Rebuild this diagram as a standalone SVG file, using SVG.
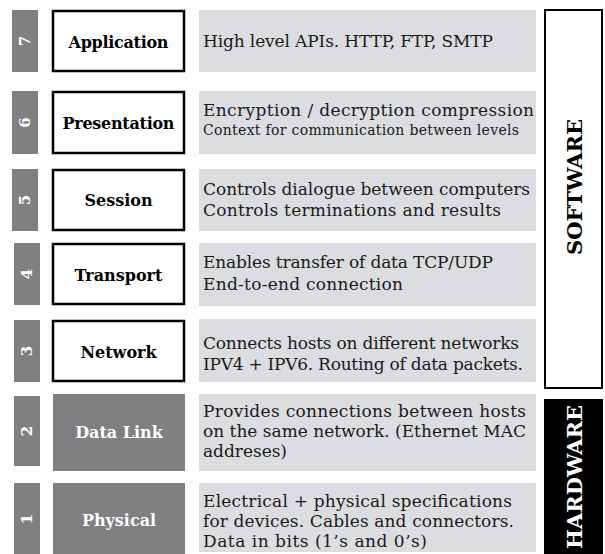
<svg xmlns="http://www.w3.org/2000/svg" width="605" height="554" viewBox="0 0 605 554">
<style>
.num{fill:#808083}
.numt{fill:#fff;font-family:"DejaVu Serif",serif;font-weight:bold;font-size:15px;text-anchor:middle;dominant-baseline:central}
.name{fill:#fff;stroke:#000;stroke-width:2.5}
.nameg{fill:#808083}
.namet{font-family:"DejaVu Serif",serif;font-weight:bold;font-size:16px;text-anchor:middle;dominant-baseline:central;fill:#000}
.namegt{fill:#fff}
.desc{fill:#dcdde0}
.dt{font-family:"DejaVu Serif",serif;font-size:17px;fill:#1a1a1a}
.ds{font-size:14px}
.side{font-family:"DejaVu Serif",serif;font-weight:bold;font-size:21px;text-anchor:middle;dominant-baseline:central}
</style>
<rect width="605" height="554" fill="#fff"/>
<g id="layer7">
<rect class="num" x="12" y="10" width="26" height="62"/>
<text class="numt" transform="translate(25,41) rotate(-90)">7</text>
<rect class="name" x="53" y="11" width="131" height="60"/>
<text class="namet" x="118.5" y="42" textLength="100">Application</text>
<rect class="desc" x="199" y="10" width="337" height="62"/>
<text class="dt" x="203" y="47" font-size="18" textLength="290">High level APIs. HTTP, FTP, SMTP</text>
</g>
<g id="layer6">
<rect class="num" x="12" y="91" width="26" height="63"/>
<text class="numt" transform="translate(25,122.5) rotate(-90)">6</text>
<rect class="name" x="53" y="92" width="131" height="61"/>
<text class="namet" x="118.5" y="123" textLength="112">Presentation</text>
<rect class="desc" x="199" y="91" width="337" height="63"/>
<text class="dt" x="203" y="116" textLength="331">Encryption / decryption compression</text>
<text class="dt ds" x="203" y="135" textLength="316">Context for communication between levels</text>
</g>
<g id="layer5">
<rect class="num" x="12" y="169" width="26" height="62"/>
<text class="numt" transform="translate(25,200) rotate(-90)">5</text>
<rect class="name" x="53" y="170" width="131" height="60"/>
<text class="namet" x="118.5" y="200">Session</text>
<rect class="desc" x="199" y="169" width="337" height="62"/>
<text class="dt" x="203" y="195" textLength="327">Controls dialogue between computers</text>
<text class="dt" x="203" y="216" textLength="298">Controls terminations and results</text>
</g>
<g id="layer4">
<rect class="num" x="14" y="243" width="26" height="62"/>
<text class="numt" transform="translate(27,274) rotate(-90)">4</text>
<rect class="name" x="53" y="244" width="131" height="60"/>
<text class="namet" x="118.5" y="275">Transport</text>
<rect class="desc" x="199" y="243" width="337" height="63"/>
<text class="dt" x="203" y="268" textLength="290">Enables transfer of data TCP/UDP</text>
<text class="dt" x="203" y="290" textLength="200">End-to-end connection</text>
</g>
<g id="layer3">
<rect class="num" x="14" y="320" width="26" height="62"/>
<text class="numt" transform="translate(27,351) rotate(-90)">3</text>
<rect class="name" x="53" y="321" width="131" height="60"/>
<text class="namet" x="118.5" y="352">Network</text>
<rect class="desc" x="199" y="319" width="337" height="63"/>
<text class="dt" x="203" y="349" textLength="316">Connects hosts on different networks</text>
<text class="dt" x="203" y="370" textLength="320">IPV4 + IPV6. Routing of data packets.</text>
</g>
<g id="layer2">
<rect class="num" x="14" y="396" width="26" height="70"/>
<text class="numt" transform="translate(27,431) rotate(-90)">2</text>
<rect class="nameg" x="53" y="394" width="132" height="77"/>
<text class="namet namegt" x="119" y="432">Data Link</text>
<rect class="desc" x="199" y="394" width="337" height="77"/>
<text class="dt" x="203" y="417" textLength="323">Provides connections between hosts</text>
<text class="dt" x="203" y="437" textLength="323">on the same network. (Ethernet MAC</text>
<text class="dt" x="203" y="457" textLength="84">addreses)</text>
</g>
<g id="layer1">
<rect class="num" x="14" y="483" width="26" height="71"/>
<text class="numt" transform="translate(27,519) rotate(-90)">1</text>
<rect class="nameg" x="53" y="483" width="132" height="71"/>
<text class="namet namegt" x="119" y="520">Physical</text>
<rect class="desc" x="199" y="483" width="337" height="69"/>
<text class="dt" x="203" y="507" textLength="309">Electrical + physical specifications</text>
<text class="dt" x="203" y="527" textLength="311">for devices. Cables and connectors.</text>
<text class="dt" x="203" y="547" textLength="224">Data in bits (1’s and 0’s)</text>
</g>
<g id="software">
<rect x="545" y="10" width="57" height="378" fill="#fff" stroke="#000" stroke-width="2"/>
<text class="side" transform="translate(574,187) rotate(-90)" fill="#000">SOFTWARE</text>
</g>
<g id="hardware">
<rect x="544" y="399" width="59" height="155" fill="#000"/>
<text class="side" transform="translate(574,477) rotate(-90)" fill="#fff">HARDWARE</text>
</g>
<g id="connectors"></g>
</svg>
